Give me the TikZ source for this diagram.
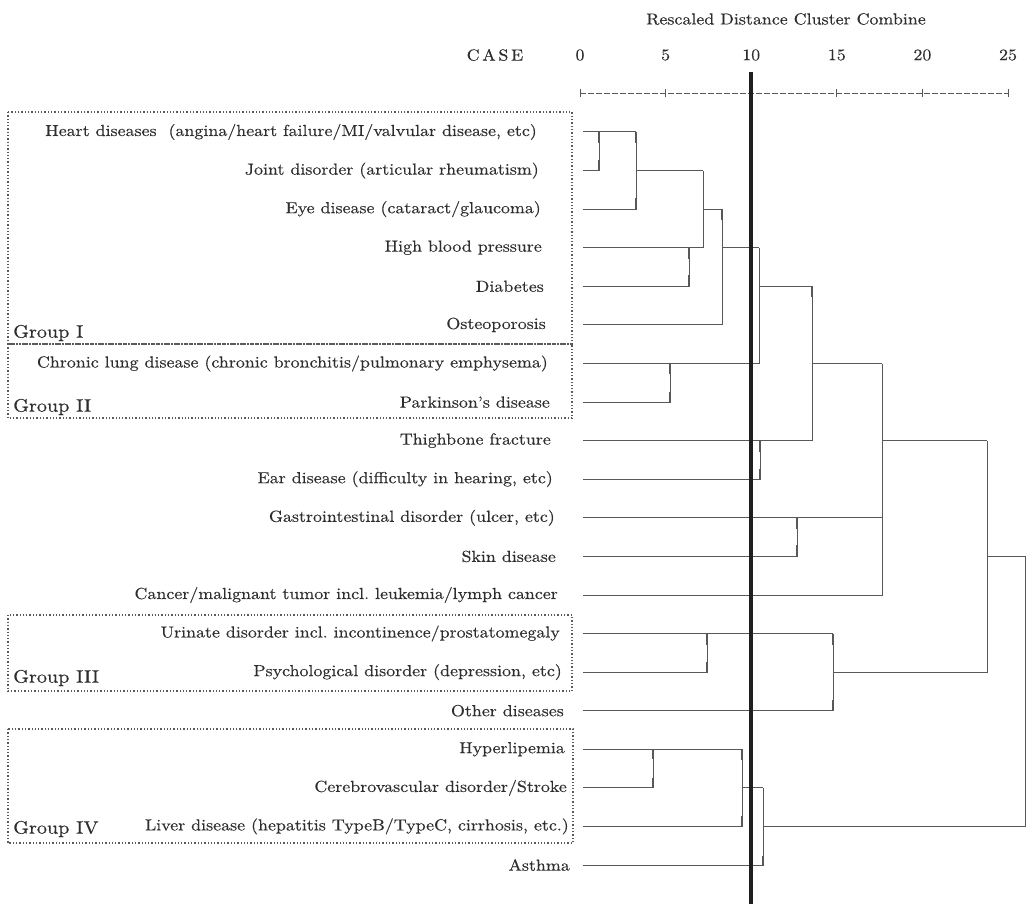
\documentclass[tikz,border=0pt]{standalone}
\usepackage{fontspec}
\setmainfont{lmroman10-regular.otf}[FakeStretch=1.12,FakeBold=0.35]
\definecolor{inkgray}{HTML}{2E2E2E}
\definecolor{treegray}{HTML}{585858}
\definecolor{boxgray}{HTML}{5A5A5A}
\frenchspacing
\begin{document}
\begin{tikzpicture}[x=1pt,y=-1pt,
  leaf/.style={anchor=east,inner sep=0pt,text=inkgray,font=\fontsize{16}{18}\selectfont},
  grouplabel/.style={anchor=west,inner sep=0pt,text=inkgray,font=\fontsize{18}{20}\selectfont},
  scalelabel/.style={inner sep=0pt,text=inkgray,font=\fontsize{16}{18}\selectfont},
  tree/.style={treegray,line width=1pt},
  tickbar/.style={treegray,line width=2.2pt},
  groupbox/.style={boxgray,line width=1.3pt,dotted},
  axisline/.style={treegray,line width=0.9pt,dash pattern=on 6pt off 2pt},
  cutline/.style={black!88,line width=3.6pt}]
\useasboundingbox (0,0) rectangle (1027,904);
% header and scale
\node[scalelabel] (title) at (786,19) {Rescaled Distance Cluster Combine};
\node[scalelabel] (case) at (495,55) {C\,A\,S\,E};
\node[scalelabel] (t0) at (580,55) {0};
\node[scalelabel] (t5) at (665.6,55) {5};
\node[scalelabel] (t10) at (751.2,55) {10};
\node[scalelabel] (t15) at (836.8,55) {15};
\node[scalelabel] (t20) at (922.4,55) {20};
\node[scalelabel] (t25) at (1008,55) {25};
\draw[axisline] (580,93) -- (1008,93);
\draw[tree] (580,89) -- (580,97) (665.6,89) -- (665.6,97) (836.8,89) -- (836.8,97)
  (922.4,89) -- (922.4,97) (1008,89) -- (1008,97);
% groups
\draw[groupbox] (8,112) rectangle (572,344);
\draw[groupbox] (8,344) rectangle (572,418);
\draw[groupbox] (8,615) rectangle (572,691);
\draw[groupbox] (8,729) rectangle (573,843);
\node[grouplabel] (g1) at (13,333) {Group I};
\node[grouplabel] (g2) at (13,407) {Group II};
\node[grouplabel] (g3) at (13,678) {Group III};
\node[grouplabel] (g4) at (13,829) {Group IV};
% cases
\node[leaf] (heart) at (537,132) {Heart diseases~ (angina/heart failure/MI/valvular disease, etc)};
\node[leaf] (joint) at (539,170.6) {Joint disorder (articular rheumatism)};
\node[leaf] (eye) at (541,209.2) {Eye disease (cataract/glaucoma)};
\node[leaf] (hbp) at (542,247.7) {High blood pressure};
\node[leaf] (diab) at (544,286.3) {Diabetes};
\node[leaf] (osteo) at (546,324.9) {Osteoporosis};
\node[leaf] (lung) at (548,363.5) {Chronic lung disease (chronic bronchitis/pulmonary emphysema)};
\node[leaf] (park) at (550,402.1) {Parkinson's disease};
\node[leaf] (thigh) at (551,440.6) {Thighbone fracture};
\node[leaf] (ear) at (553,479.2) {Ear disease (difficulty in hearing, etc)};
\node[leaf] (gastro) at (555,517.8) {Gastrointestinal disorder (ulcer, etc)};
\node[leaf] (skin) at (556,556.4) {Skin disease};
\node[leaf] (cancer) at (558,595) {Cancer/malignant tumor incl. leukemia/lymph cancer};
\node[leaf] (urin) at (560,633.5) {Urinate disorder incl. incontinence/prostatomegaly};
\node[leaf] (psych) at (562,672.1) {Psychological disorder (depression, etc)};
\node[leaf] (other) at (564,710.7) {Other diseases};
\node[leaf] (hyper) at (565,749.3) {Hyperlipemia};
\node[leaf] (cerebro) at (567,787.9) {Cerebrovascular disorder/Stroke};
\node[leaf] (liver) at (569,826.4) {Liver disease (hepatitis TypeB/TypeC, cirrhosis, etc.)};
\node[leaf] (asthma) at (570,865) {Asthma};
% leaf line starts
\coordinate (heart-s) at (583,132);
\coordinate (joint-s) at (583,170.6);
\coordinate (eye-s) at (583,209.2);
\coordinate (hbp-s) at (583,247.7);
\coordinate (diab-s) at (583,286.3);
\coordinate (osteo-s) at (583,324.9);
\coordinate (lung-s) at (583,363.5);
\coordinate (park-s) at (583,402.1);
\coordinate (thigh-s) at (583,440.6);
\coordinate (ear-s) at (583,479.2);
\coordinate (gastro-s) at (583,517.8);
\coordinate (skin-s) at (583,556.4);
\coordinate (cancer-s) at (583,595);
\coordinate (urin-s) at (583,633.5);
\coordinate (psych-s) at (583,672.1);
\coordinate (other-s) at (583,710.7);
\coordinate (hyper-s) at (583,749.3);
\coordinate (cerebro-s) at (583,787.9);
\coordinate (liver-s) at (583,826.4);
\coordinate (asthma-s) at (583,865);
% merge points (top of each vertical)
\coordinate (k1) at (599,132);
\coordinate (k2) at (636,132);
\coordinate (k3) at (689,247.7);
\coordinate (k4) at (703,170.6);
\coordinate (k5) at (722,209.2);
\coordinate (k6) at (670,363.5);
\coordinate (k7) at (759,247.7);
\coordinate (k8) at (760,440.6);
\coordinate (k9) at (812,286.3);
\coordinate (k10) at (797,517.8);
\coordinate (k11) at (882,363.5);
\coordinate (k12) at (707,633.5);
\coordinate (k13) at (833,633.5);
\coordinate (k14) at (987,440.6);
\coordinate (k15) at (653,749.3);
\coordinate (k16) at (742,749.3);
\coordinate (k17) at (763,787.9);
\coordinate (k18) at (1025,556.4);
% dendrogram
\draw[tree] (joint-s) -| (k1);
\draw[tree] (heart-s) -- (k2);
\draw[tree] (eye-s) -| (k2);
\draw[tree] (diab-s) -| (k3);
\draw[tree] (k2 |- joint-s) -- (k4);
\draw[tree] (hbp-s) -| (k4);
\draw[tree] (k4 |- eye-s) -- (k5);
\draw[tree] (osteo-s) -| (k5);
\draw[tree] (k5 |- hbp-s) -- (k7);
\draw[tree] (park-s) -| (k6);
\draw[tree] (lung-s) -| (k7);
\draw[tree] (k7 |- diab-s) -- (k9);
\draw[tree] (ear-s) -| (k8);
\draw[tree] (thigh-s) -| (k9);
\draw[tree] (k9 |- lung-s) -- (k11);
\draw[tree] (skin-s) -| (k10);
\draw[tree] (gastro-s) -- (k11 |- gastro-s);
\draw[tree] (cancer-s) -| (k11);
\draw[tree] (k11 |- thigh-s) -- (k14);
\draw[tree] (psych-s) -| (k12);
\draw[tree] (urin-s) -- (k13);
\draw[tree] (other-s) -| (k13);
\draw[tree] (k13 |- psych-s) -| (k14);
\draw[tree] (k14 |- skin-s) -- (k18);
\draw[tree] (cerebro-s) -| (k15);
\draw[tree] (hyper-s) -- (k16);
\draw[tree] (liver-s) -| (k16);
\draw[tree] (k16 |- cerebro-s) -- (k17);
\draw[tree] (asthma-s) -| (k17);
\draw[tree] (k17 |- liver-s) -| (k18);
% bold ends of the short verticals
\draw[tickbar] (k1) -- ++(0,11) (k1 |- joint-s) -- ++(0,-11);
\draw[tickbar] (k2) -- ++(0,11) (k2 |- eye-s) -- ++(0,-11);
\draw[tickbar] (k3) -- ++(0,11) (k3 |- diab-s) -- ++(0,-11);
\draw[tickbar] (k5) -- ++(0,11);
\draw[tickbar] (k6) -- ++(0,10) (k6 |- park-s) -- ++(0,-10);
\draw[tickbar] (k8) -- ++(0,11) (k8 |- ear-s) -- ++(0,-10);
\draw[tickbar] (k9) -- ++(0,11);
\draw[tickbar] (k10) -- ++(0,11) (k10 |- skin-s) -- ++(0,-11);
\draw[tickbar] (k12) -- ++(0,11) (k12 |- psych-s) -- ++(0,-10);
\draw[tickbar] (k13) -- ++(0,11) (k13 |- other-s) -- ++(0,-11);
\draw[tickbar] (k15) -- ++(0,10) (k15 |- cerebro-s) -- ++(0,-10);
\draw[tickbar] (k16) -- ++(0,11) (k16 |- liver-s) -- ++(0,-10);
\draw[tickbar] (k17 |- asthma-s) -- ++(0,-9);
% cut at distance 10
\coordinate (cut-top) at (751.2,72);
\coordinate (cut-bot) at (751.2,904);
\draw[cutline] (cut-top) -- (cut-bot);
\end{tikzpicture}
\end{document}
